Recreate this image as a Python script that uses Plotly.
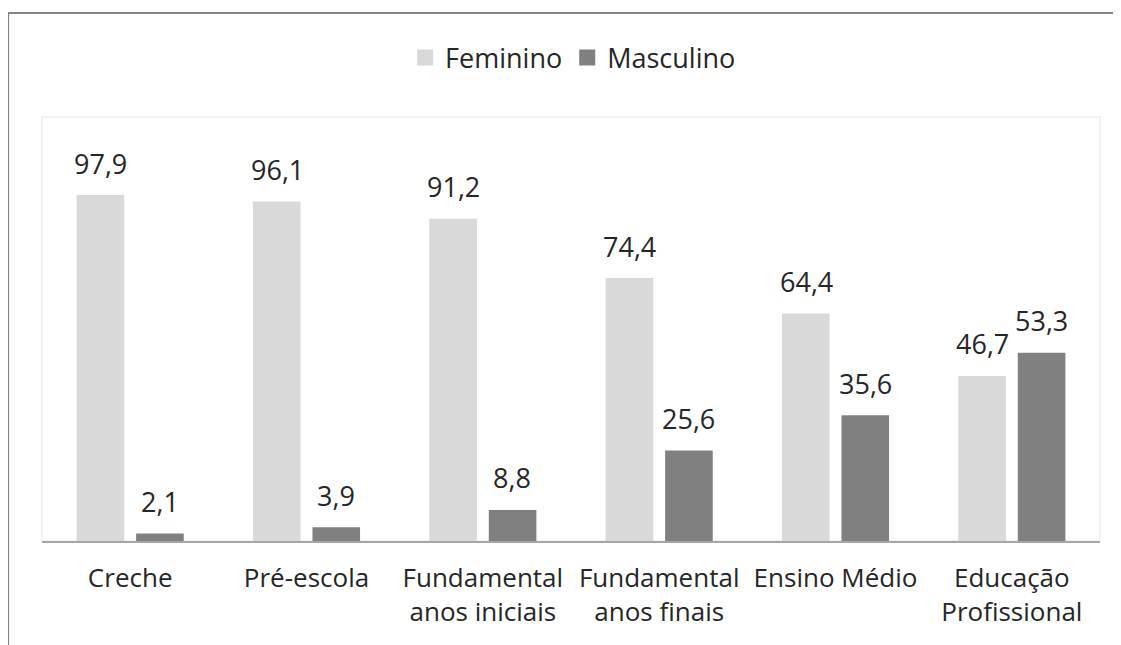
import plotly.graph_objects as go

categories = ["Creche", "Pré-escola", "Fundamental<br>anos iniciais", "Fundamental<br>anos finais",
              "Ensino Médio", "Educação<br>Profissional"]
feminino = [97.9, 96.1, 91.2, 74.4, 64.4, 46.7]
masculino = [2.1, 3.9, 8.8, 25.6, 35.6, 53.3]
series_names = ["Feminino", "Masculino"]
series_colors = ["#d9d9d9", "#808080"]

FONT = "Open Sans"
TXT = "#262626"

def fmt(v):
    return f"{v:.1f}".replace(".", ",")

fig = go.Figure()
for name, vals, col in zip(series_names, [feminino, masculino], series_colors):
    fig.add_trace(go.Bar(x=categories, y=vals, name=name, marker=dict(color=col, line=dict(width=0)),
                         showlegend=False, hoverinfo="skip"))
    # legend-only marker trace for larger square symbols
    fig.add_trace(go.Scatter(x=[None], y=[None], mode="markers", name=name,
                             marker=dict(symbol="square", size=17, color=col), showlegend=True))

annotations = []
for vals, shift in [(feminino, -29.5), (masculino, 29.5)]:
    for c, v in zip(categories, vals):
        annotations.append(dict(x=c, y=v, xref="x", yref="y", text=fmt(v), showarrow=False,
                                xshift=shift, yshift=32, yanchor="middle",
                                font=dict(family=FONT, size=27, color=TXT)))

shapes = [
    # inner plot-area frame (light)
    dict(type="rect", xref="paper", yref="paper", x0=0, x1=1, y0=0, y1=1,
         line=dict(color="#efefef", width=1.5), layer="below"),
    # outer chart border (cropped): top and left
    dict(type="line", xref="paper", yref="paper", x0=-0.0321, x1=1.05, y0=1.2453, y1=1.2453,
         line=dict(color="#858585", width=2.2)),
    dict(type="line", xref="paper", yref="paper", x0=-0.0321, x1=-0.0321, y0=1.2453, y1=-0.3,
         line=dict(color="#858585", width=2.2)),
]

fig.update_layout(
    width=1113, height=637, autosize=False,
    margin=dict(l=34, r=21, t=109, b=104),
    paper_bgcolor="white", plot_bgcolor="white",
    barmode="group", bargap=0.325, bargroupgap=0.2,
    font=dict(family=FONT, color=TXT),
    legend=dict(orientation="h", x=0.502, y=1.139, xanchor="center", yanchor="middle",
                font=dict(family=FONT, size=27, color=TXT), itemsizing="trace",
                bgcolor="rgba(0,0,0,0)"),
    annotations=annotations,
    shapes=shapes,
    xaxis=dict(showline=True, linecolor="#a6a6a6", linewidth=1.5, ticks="", showgrid=False,
               tickfont=dict(family=FONT, size=26, color=TXT), fixedrange=True,
               ticklabelstandoff=13),
    yaxis=dict(range=[0, 120], visible=False, showgrid=False, fixedrange=True),
)

fig.write_html("out.html")
